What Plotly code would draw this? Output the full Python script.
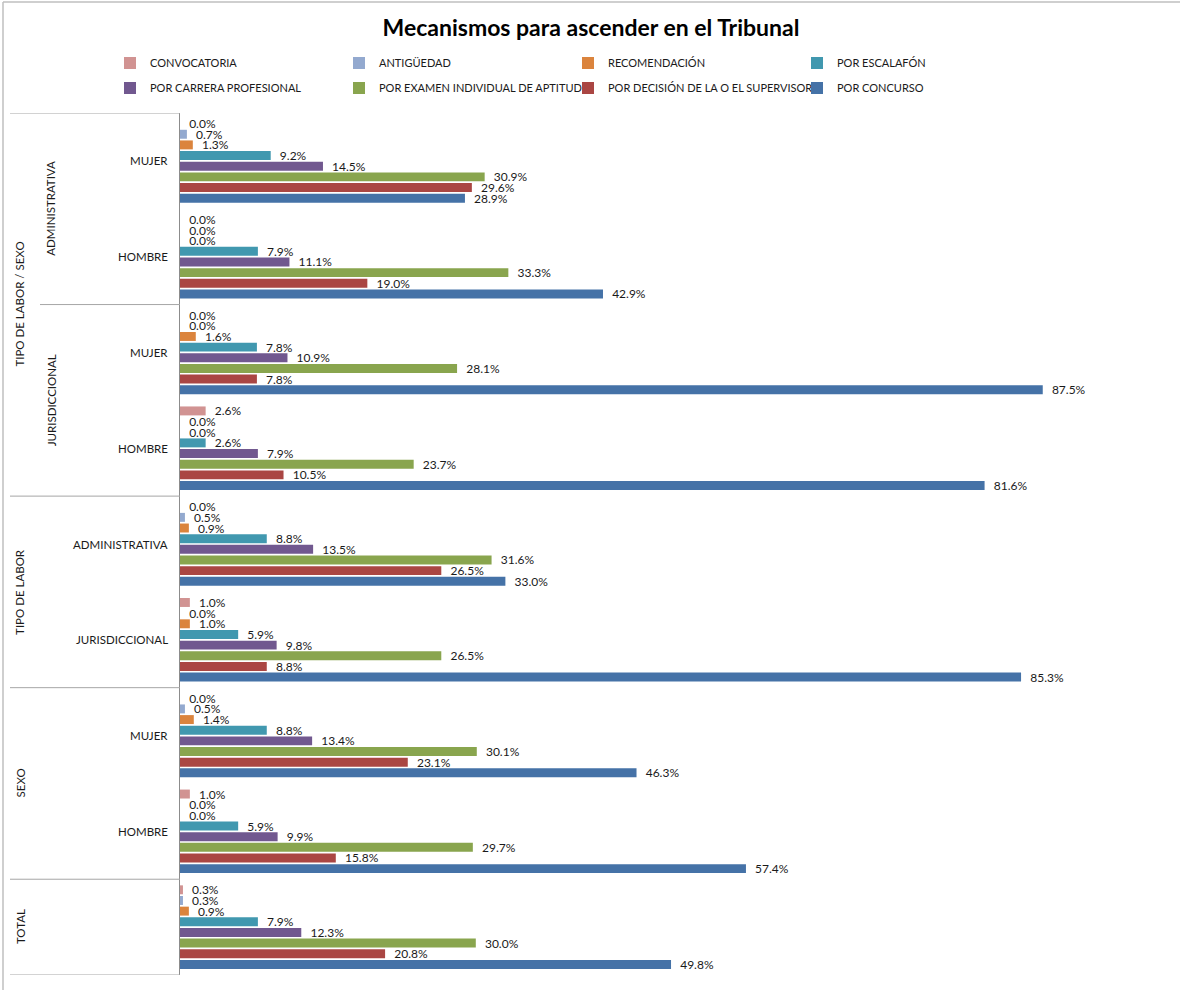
import plotly.graph_objects as go

# ---------------- data ----------------
outer_groups = ["TIPO DE LABOR / SEXO", "TIPO DE LABOR", "SEXO", "TOTAL"]
middle_groups = ["ADMINISTRATIVA", "JURISDICCIONAL"]
inner_labels = ["MUJER", "HOMBRE", "MUJER", "HOMBRE",
                "ADMINISTRATIVA", "JURISDICCIONAL", "MUJER", "HOMBRE", ""]
category_keys = ["ADMINISTRATIVA|MUJER", "ADMINISTRATIVA|HOMBRE",
                 "JURISDICCIONAL|MUJER", "JURISDICCIONAL|HOMBRE",
                 "TIPO DE LABOR|ADMINISTRATIVA", "TIPO DE LABOR|JURISDICCIONAL",
                 "SEXO|MUJER", "SEXO|HOMBRE", "TOTAL"]

series_names = ["CONVOCATORIA", "ANTIGÜEDAD", "RECOMENDACIÓN", "POR ESCALAFÓN",
                "POR CARRERA PROFESIONAL", "POR EXAMEN INDIVIDUAL DE APTITUD",
                "POR DECISIÓN DE LA O EL SUPERVISOR", "POR CONCURSO"]

convocatoria = [0.0, 0.0, 0.0, 2.6, 0.0, 1.0, 0.0, 1.0, 0.3]
antiguedad = [0.7, 0.0, 0.0, 0.0, 0.5, 0.0, 0.5, 0.0, 0.3]
recomendacion = [1.3, 0.0, 1.6, 0.0, 0.9, 1.0, 1.4, 0.0, 0.9]
escalafon = [9.2, 7.9, 7.8, 2.6, 8.8, 5.9, 8.8, 5.9, 7.9]
carrera = [14.5, 11.1, 10.9, 7.9, 13.5, 9.8, 13.4, 9.9, 12.3]
examen = [30.9, 33.3, 28.1, 23.7, 31.6, 26.5, 30.1, 29.7, 30.0]
decision = [29.6, 19.0, 7.8, 10.5, 26.5, 8.8, 23.1, 15.8, 20.8]
concurso = [28.9, 42.9, 87.5, 81.6, 33.0, 85.3, 46.3, 57.4, 49.8]

series_values = [convocatoria, antiguedad, recomendacion, escalafon,
                 carrera, examen, decision, concurso]
colors = ["#D19392", "#93A9CF", "#DB843D", "#4198AF",
          "#71588F", "#89A54E", "#AA4643", "#4572A7"]

# ---------------- layout geometry ----------------
W, H = 1180, 990
ML, MR, MT, MB = 180, 14, 113, 15
PW = W - ML - MR
PH = H - MT - MB


def px_x(px):
    return (px - ML) / PW


def px_y(py):
    return 1 + (MT - py) / PH


FONT = "Lato, Liberation Sans, Arial, sans-serif"
TXT = "#1a1a1a"

fig = go.Figure()
for i, (name, vals, col) in enumerate(zip(series_names, series_values, colors)):
    fig.add_trace(go.Bar(
        y=category_keys, x=vals, name=name, orientation="h",
        marker=dict(color=col, line=dict(width=0)),
        text=vals, texttemplate="\u00a0\u00a0%{x:.1f}%", textposition="outside",
        constraintext="none", cliponaxis=False,
        textfont=dict(family=FONT, size=12, color=TXT),
        legend="legend" if i < 4 else "legend2",
        hoverinfo="x+name",
    ))

annotations = []
# inner labels
for k, lab in enumerate(inner_labels):
    if lab:
        annotations.append(dict(x=px_x(170), y=k, xref="paper", yref="y", text=lab,
                                showarrow=False, xanchor="right", yanchor="middle",
                                font=dict(family=FONT, size=11.5, color=TXT)))
# middle labels (rotated)
for lab, yc in zip(middle_groups, [0.5, 2.5]):
    annotations.append(dict(x=px_x(51), y=yc, xref="paper", yref="y", text=lab,
                            showarrow=False, textangle=-90, xanchor="center", yanchor="middle",
                            font=dict(family=FONT, size=11.5, color=TXT)))
# outer labels (rotated)
for lab, yc in zip(outer_groups, [1.5, 4.5, 6.5, 8.0]):
    annotations.append(dict(x=px_x(20), y=yc, xref="paper", yref="y", text=lab,
                            showarrow=False, textangle=-90, xanchor="center", yanchor="middle",
                            font=dict(family=FONT, size=11.5, color=TXT)))

shapes = []
sep_color = "#A6A6A6"
for yb in [-0.5, 3.5, 5.5, 7.5, 8.5]:
    shapes.append(dict(type="line", xref="paper", yref="y", x0=px_x(10), x1=0, y0=yb, y1=yb,
                       line=dict(color=sep_color, width=1)))
shapes.append(dict(type="line", xref="paper", yref="y", x0=px_x(40), x1=0, y0=1.5, y1=1.5,
                   line=dict(color=sep_color, width=1)))
# chart border (top and left)
shapes.append(dict(type="line", xref="paper", yref="paper", x0=px_x(3), x1=px_x(1180),
                   y0=px_y(2), y1=px_y(2), line=dict(color="#BFBFBF", width=1.5)))
shapes.append(dict(type="line", xref="paper", yref="paper", x0=px_x(3), x1=px_x(3),
                   y0=px_y(2), y1=px_y(990), line=dict(color="#BFBFBF", width=1.5)))

legend_common = dict(orientation="h", xanchor="left", yanchor="middle",
                     entrywidth=184, entrywidthmode="pixels", itemwidth=30,
                     font=dict(family=FONT, size=11, color=TXT),
                     bgcolor="rgba(0,0,0,0)", borderwidth=0, itemclick=False)

fig.update_layout(
    width=W, height=H,
    margin=dict(l=ML, r=MR, t=MT, b=MB, pad=0),
    paper_bgcolor="white", plot_bgcolor="white",
    barmode="group", bargap=0.11, bargroupgap=0.16,
    title=dict(text="<b>Mecanismos para ascender en el Tribunal</b>",
               x=591 / W, xref="container", xanchor="center",
               y=1 - 28 / H, yref="container", yanchor="middle",
               font=dict(family=FONT, size=23, color="#000000")),
    xaxis=dict(range=[0, 100], visible=False, showgrid=False, zeroline=False, fixedrange=True),
    yaxis=dict(type="category", categoryorder="array", categoryarray=category_keys,
               range=[8.5, -0.5], showticklabels=False, showgrid=False, zeroline=False,
               showline=True, linecolor="#8C8C8C", linewidth=1, ticks="", fixedrange=True),
    legend=dict(x=px_x(110), y=px_y(63), **legend_common),
    legend2=dict(x=px_x(110), y=px_y(88), **legend_common),
    annotations=annotations,
    shapes=shapes,
    font=dict(family=FONT, color=TXT),
)

fig.write_html("out.html")
